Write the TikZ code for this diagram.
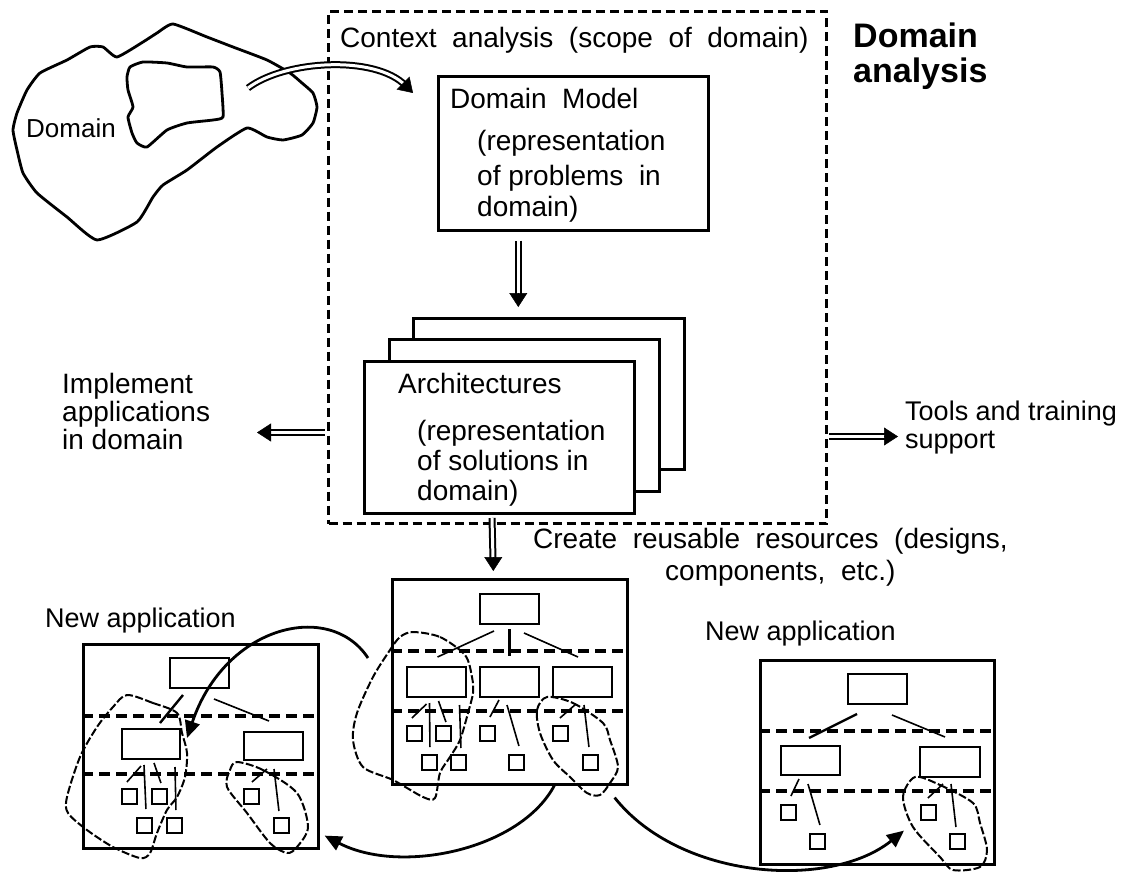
\documentclass[tikz,border=0pt]{standalone}
\usepackage{fontspec}
\setmainfont{Liberation Sans}
\usetikzlibrary{arrows.meta,calc}
\begin{document}
\begin{tikzpicture}[x=1pt,y=-1pt,
  txt/.style={inner sep=0pt, anchor=base west, font=\fontsize{28}{32}\selectfont},
  ttl/.style={inner sep=0pt, anchor=base west, font=\fontsize{34}{38}\selectfont\bfseries},
  abox/.style={draw, line width=2.6pt, inner sep=0pt, anchor=north west, fill=white},
  sbox/.style={draw, line width=2pt, inner sep=0pt, anchor=north west, minimum width=59pt, minimum height=30pt},
  sq/.style={draw, line width=1.9pt, inner sep=0pt, anchor=north west, minimum width=15pt, minimum height=15pt},
  tierline/.style={line width=4pt, dash pattern=on 11pt off 6pt},
  daframe/.style={draw, line width=3pt, dash pattern=on 9pt off 5pt, inner sep=0pt, anchor=north west},
  lasso/.style={line width=2pt, dash pattern=on 8pt off 2.5pt, line join=round},
  link/.style={line width=1.6pt},
  curvy/.style={line width=2.8pt, -{Triangle[length=17pt,width=15pt]}},
  dbl/.style={double, double distance=3pt, line width=2pt},
  dtip/.style={-{Triangle[length=14pt,width=18pt]}, line width=0.5pt},
  blob/.style={line width=2.8pt, line join=round}
]
\useasboundingbox (0,0) rectangle (1122,875);

% ---------- Domain blob ----------
\draw[blob] plot[smooth cycle, tension=0.3] coordinates {
 (97,240) (137,222) (153,197) (163,185) (187,170) (217,147) (247,128) (267,137)
 (283,140) (302,135) (313,123) (317,107) (313,93) (302,83) (290,73) (267,60)
 (233,47) (207,37) (173,24) (157,33) (143,42) (117,57) (103,47) (90,47)
 (67,60) (40,73) (27,90) (17,113) (13,130) (17,150) (23,173) (37,193) (67,217)};
\draw[blob] plot[smooth cycle, tension=0.3] coordinates {
 (130,67) (143,62) (167,63) (187,67) (213,67) (220,72) (222,93) (223,117)
 (213,120) (187,123) (167,130) (147,147) (137,143) (132,133) (128,117) (133,107)
 (128,90) (127,77)};
\node[txt, font=\fontsize{26}{30}\selectfont] (dom) at (26,137) {Domain};

% ---------- Domain analysis frame ----------
\node[daframe, minimum width=498pt, minimum height=512pt] (da) at (327,10) {};
\node[txt] (ctx) at (340,48) {Context\ \ analysis\ \ (scope\ \ of\ \ domain)};
\node[ttl] (t1) at (853,48) {Domain};
\node[ttl] (t2) at (853,82) {analysis};

% Domain model
\node[abox, minimum width=270pt, minimum height=154pt] (dm) at (437,75) {};
\node[txt] (dm1) at (450,108) {Domain\ \ Model};
\node[txt] (dm2) at (477,150) {(representation};
\node[txt] (dm3) at (477,185) {of problems\ \ in};
\node[txt] (dm4) at (477,216) {domain)};

% Architectures stack
\node[abox, minimum width=271pt, minimum height=151pt] (a3) at (412,317) {};
\node[abox, minimum width=270pt, minimum height=152pt] (a2) at (388,338) {};
\node[abox, minimum width=270pt, minimum height=152pt] (a1) at (363,360) {};
\node[txt] (ar1) at (398,393) {Architectures};
\node[txt] (ar2) at (417,440) {(representation};
\node[txt] (ar3) at (417,470) {of solutions in};
\node[txt] (ar4) at (417,500) {domain)};

% domain -> domain model (double curved)
\coordinate (dsrc) at (248,88);
\coordinate (dtgt) at ($(dm.north west)+(-24,18)$);
\draw[dbl, shorten >=11pt] (dsrc) .. controls (285,60) and (375,55) .. (dtgt);
\draw[dtip] ($(dtgt)!2pt!(375,55)$) -- (dtgt);

% domain model -> architectures
\coordinate (m1) at ($(dm.south)+(-55,9)$);
\coordinate (m2) at ($(a3.north)+(-30.5,-10)$);
\draw[dbl, shorten >=11pt] (m1) -- (m2);
\draw[dtip] ($(m2)+(0,-2)$) -- (m2);

% Left / right outputs
\node[txt] (im1) at (62,393) {Implement};
\node[txt] (im2) at (62,421) {applications};
\node[txt] (im3) at (62,449) {in domain};
\coordinate (l1s) at ($(da.west)+(-2,165)$);
\coordinate (l1e) at ($(l1s)+(-68,0)$);
\draw[dbl, shorten >=11pt] (l1s) -- (l1e);
\draw[dtip] ($(l1e)+(2,0)$) -- (l1e);

\node[txt, font=\fontsize{27}{30}\selectfont] (to1) at (905,420) {Tools and training};
\node[txt, font=\fontsize{27}{30}\selectfont] (to2) at (905,448) {support};
\coordinate (r1s) at ($(da.east)+(1,169)$);
\coordinate (r1e) at ($(r1s)+(69,0)$);
\draw[dbl, shorten >=11pt] (r1s) -- (r1e);
\draw[dtip] ($(r1e)+(-2,0)$) -- (r1e);

% Create reusable resources
\node[txt] (cr1) at (533,548) {Create\ \ reusable\ \ resources\ \ (designs,};
\node[txt] (cr2) at (665,580) {components,\ \ etc.)};

% ---------- Center application ----------
\node[abox, minimum width=235pt, minimum height=205pt] (cb) at (391,578) {};
\coordinate (d1) at (492,518);
\coordinate (d2) at ($(cb.north)+(-16.5,-7)$);
\draw[dbl, shorten >=11pt] (d1) -- (d2);
\draw[dtip] ($(d2)+(0,-2)$) -- (d2);

\node[sbox] (ct) at (479,593) {};
\node[sbox] (c1) at (406,666) {};
\node[sbox] (c2) at (479,666) {};
\node[sbox] (c3) at (552,666) {};
\draw[tierline] ($(cb.north west)+(0,73)$) -- ($(cb.north east)+(0,73)$);
\draw[tierline] ($(cb.north west)+(0,133)$) -- ($(cb.north east)+(0,133)$);
\node[sq] (cs1) at (406,725) {};
\node[sq] (cs2) at (435,725) {};
\node[sq] (cs3) at (479,725) {};
\node[sq] (cs4) at (552,725) {};
\node[sq] (cs5) at (421,754) {};
\node[sq] (cs6) at (450,754) {};
\node[sq] (cs7) at (508,754) {};
\node[sq] (cs8) at (582,754) {};
\draw[link] ($(ct.south)+(-15.5,6)$) -- ($(c1.north)+(1,-9)$);
\draw[link, line width=2.4pt] ($(ct.south)+(0,4)$) -- ($(c2.north)+(0,-10)$);
\draw[link] ($(ct.south)+(14.5,8)$) -- ($(c3.north)+(-4.5,-9)$);
\draw[link] ($(c1.south)+(-10,6)$) -- ($(cs1.north)+(-2.5,-7)$);
\draw[link] ($(c1.south)+(-7,5)$) -- ($(cs5.north)+(0.5,-7)$);
\draw[link] ($(c1.south)+(2,3)$) -- ($(cs2.north)+(2.5,-3)$);
\draw[link] ($(c1.south)+(23,7)$) -- ($(cs6.north)+(2.5,-6)$);
\draw[link] ($(c2.south)+(-10.5,2)$) -- ($(cs3.north)+(2.5,-8)$);
\draw[link] ($(c2.south)+(-2.5,7)$) -- ($(cs7.north)+(2.5,-8)$);
\draw[link] ($(c3.south)+(-6.5,6)$) -- ($(cs4.north)+(-0.5,-7)$);
\draw[link] ($(c3.south)+(1.5,7)$) -- ($(cs8.north)+(-1.5,-7)$);
\draw[lasso] plot[smooth cycle, tension=0.5] coordinates {
 (413,632) (440,637) (465,655) (472,677) (473,693) (468,713) (460,740) (450,757)
 (440,773) (435,798) (423,797) (393,780) (363,767) (353,740) (357,713) (373,677)
 (390,650) (400,637)};
\draw[lasso] plot[smooth cycle, tension=0.5] coordinates {
 (547,697) (573,703) (603,723) (610,740) (618,767) (610,783) (600,795) (587,793)
 (570,777) (553,760) (540,733) (537,710)};

% ---------- Left application ----------
\node[txt, font=\fontsize{27}{30}\selectfont] (na1) at (45,627) {New application};
\node[abox, fill=none, minimum width=235pt, minimum height=204pt] (lb) at (82,643) {};
\node[sbox] (lt) at (169,657) {};
\node[sbox, minimum width=58pt] (l1) at (121,728) {};
\node[sbox, minimum height=28pt] (l2) at (243,731) {};
\draw[tierline] ($(lb.north west)+(0,73)$) -- ($(lb.north east)+(0,73)$);
\draw[tierline] ($(lb.north west)+(0,131)$) -- ($(lb.north east)+(0,131)$);
\node[sq] (ls1) at (121,788) {};
\node[sq] (ls2) at (151,788) {};
\node[sq] (ls3) at (243,788) {};
\node[sq] (ls4) at (136,817) {};
\node[sq] (ls5) at (166,817) {};
\node[sq] (ls6) at (273,817) {};
\draw[link, line width=2.4pt] ($(lt.south)+(-16.5,6)$) -- ($(l1.north)+(9,-5)$);
\draw[link] ($(lt.south)+(14.5,10)$) -- ($(l2.north)+(-4.5,-10)$);
\draw[link] ($(l1.south)+(-10,6)$) -- ($(ls1.north)+(-2.5,-6)$);
\draw[link] ($(l1.south)+(-7,5)$) -- ($(ls4.north)+(1.5,-8)$);
\draw[link] ($(l1.south)+(3,3)$) -- ($(ls2.north)+(1.5,-5)$);
\draw[link] ($(l1.south)+(24,7)$) -- ($(ls5.north)+(1.5,-7)$);
\draw[link] ($(l2.south)+(-6.5,8)$) -- ($(ls3.north)+(0.5,-6)$);
\draw[link] ($(l2.south)+(0.5,8)$) -- ($(ls6.north)+(-2.5,-6)$);
\draw[lasso] plot[smooth cycle, tension=0.5] coordinates {
 (127,695) (153,703) (177,713) (182,733) (187,753) (185,777) (177,797) (167,810)
 (157,833) (150,853) (140,858) (113,847) (87,830) (68,813) (67,797) (80,757)
 (97,727) (113,707)};
\draw[lasso] plot[smooth cycle, tension=0.5] coordinates {
 (237,762) (263,770) (297,793) (308,827) (297,847) (287,853) (270,843) (247,813)
 (227,787) (230,770)};

% ---------- Right application ----------
\node[txt, font=\fontsize{27}{30}\selectfont] (na2) at (705,640) {New application};
\node[abox, fill=none, minimum width=234pt, minimum height=204pt] (rb) at (759,659) {};
\node[sbox] (rt) at (847,673) {};
\node[sbox, minimum height=29pt] (r1) at (780,745) {};
\node[sbox, minimum width=60pt] (r2) at (919,746) {};
\draw[tierline] ($(rb.north west)+(0,72)$) -- ($(rb.north east)+(0,72)$);
\draw[tierline] ($(rb.north west)+(0,132)$) -- ($(rb.north east)+(0,132)$);
\node[sq] (rs1) at (780,804) {};
\node[sq] (rs2) at (920,804) {};
\node[sq] (rs3) at (809,833) {};
\node[sq] (rs4) at (949,833) {};
\draw[link, line width=2.4pt] ($(rt.south)+(-20.5,9)$) -- ($(r1.north)+(-1.5,-7)$);
\draw[link] ($(rt.south)+(14.5,10)$) -- ($(r2.north)+(-5,-9)$);
\draw[link] ($(r1.south)+(-11.5,3)$) -- ($(rs1.north)+(2.5,-8)$);
\draw[link] ($(r1.south)+(-2.5,8)$) -- ($(rs3.north)+(2.5,-8)$);
\draw[link] ($(r2.south)+(-7,6)$) -- ($(rs2.north)+(-0.5,-6)$);
\draw[link] ($(r2.south)+(1,6)$) -- ($(rs4.north)+(-1.5,-6)$);
\draw[lasso] plot[smooth cycle, tension=0.5] coordinates {
 (915,777) (940,785) (973,803) (980,823) (987,850) (980,867) (953,870) (940,857)
 (913,827) (903,797)};

% ---------- Reuse arrows ----------
\coordinate (u1s) at ($(cb.north west)+(-23,80)$);
\coordinate (u1e) at ($(l1.east)+(6,-6)$);
\draw[curvy] (u1s) .. controls (330,600) and (225,625) .. (u1e);
\coordinate (u2s) at ($(cb.south)+(44.5,0)$);
\coordinate (u2e) at ($(lb.south east)+(5,-14)$);
\draw[curvy] (u2s) .. controls (520,850) and (400,875) .. (u2e);
\coordinate (u3s) at ($(cb.south east)+(-14,12)$);
\coordinate (u3e) at ($(rb.south west)+(145,-35)$);
\draw[curvy] (u3s) .. controls (680,880) and (830,890) .. (u3e);
\end{tikzpicture}
\end{document}
